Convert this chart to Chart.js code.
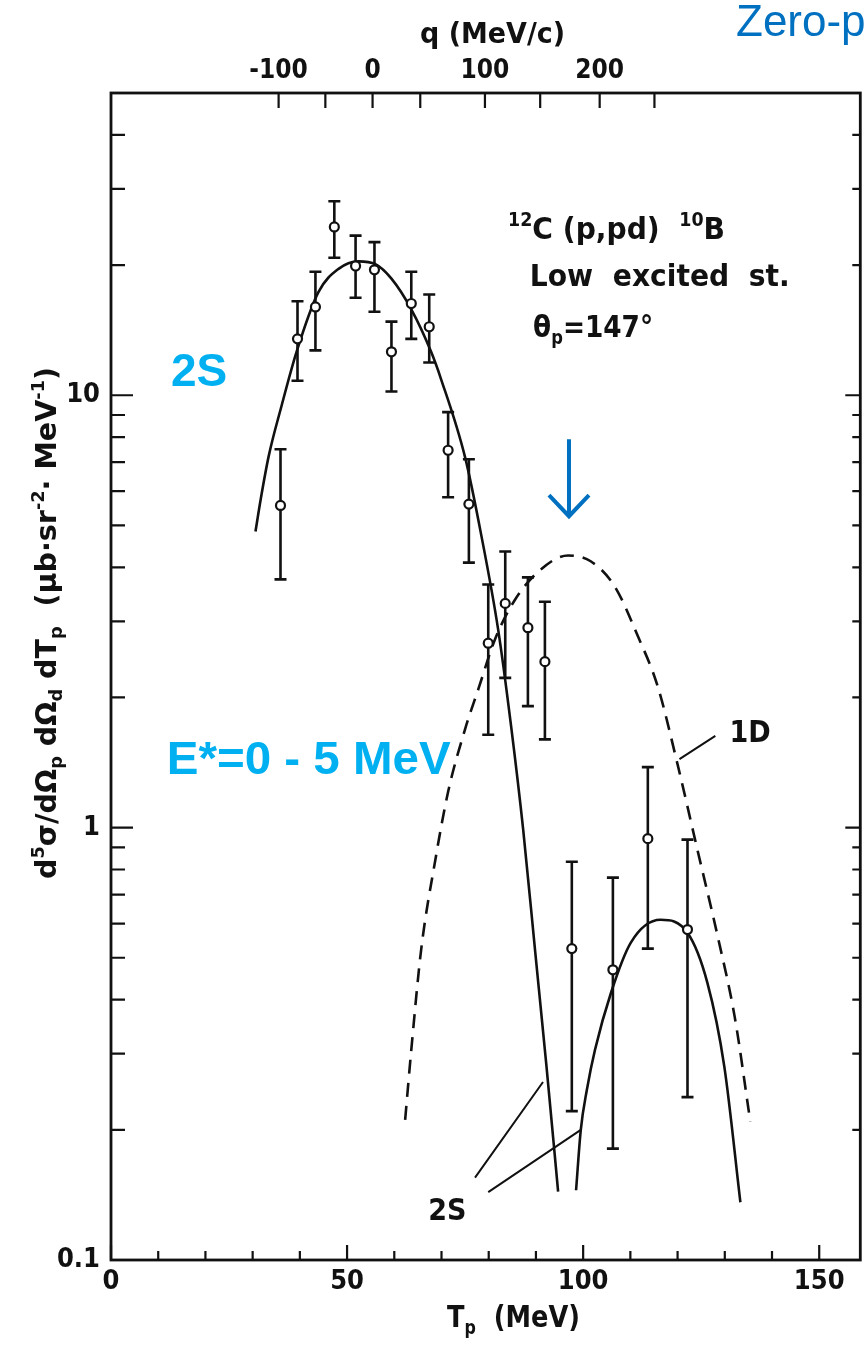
<!DOCTYPE html>
<html>
<head>
<meta charset="utf-8">
<title>12C(p,pd)10B</title>
<script src="https://cdn.jsdelivr.net/npm/chart.js@4.4.1/dist/chart.umd.min.js"></script>
<style>
  html, body { margin: 0; padding: 0; background: #fff; overflow: hidden; }
</style>
</head>
<body>
<canvas id="chart" width="867" height="1345"></canvas>
<script>
/* ===============================
   DATA
================================= */
const xTicks = [0, 50, 100, 150];
const xTickMarks = [0, 10, 20, 30, 40, 50, 60, 70, 80, 90, 100, 110, 120, 130, 140, 150];
const yTicks = [0.1, 1, 10];
const yTickLabels = ["0.1", "1", "10"];
const yTickMarks = [0.2, 0.3, 0.4, 0.5, 0.6, 0.7, 0.8, 0.9, 1, 2, 3, 4, 5, 6, 7, 8, 9, 10, 20, 30, 40];

// top axis: recoil momentum q (MeV/c), placed at the Tp where it applies
const qTickTp = [35.5, 45.4, 55.4, 65.5, 79.2, 90.9, 103.5, 115.1];
const qTickLabels = ["-100", "", "0", "", "100", "", "200", ""];

// measured points (Tp in MeV, cross section, error bar ends)
const dataTp  = [35.9, 39.5, 43.3, 47.3, 51.8, 55.8, 59.4, 63.6, 67.4, 71.4, 75.8, 79.9, 83.5, 88.3, 91.9, 97.6, 106.3, 113.7, 122.1];
const dataVal = [5.56, 13.5, 16.0, 24.5, 19.9, 19.5, 12.6, 16.3, 14.4, 7.46, 5.60, 2.67, 3.30, 2.90, 2.42, 0.525, 0.469, 0.943, 0.581];
const dataLo  = [3.75, 10.8, 12.7, 20.8, 16.8, 15.6, 10.2, 13.5, 11.9, 5.81, 4.10, 1.64, 2.22, 1.91, 1.60, 0.221, 0.181, 0.525, 0.238];
const dataHi  = [7.50, 16.5, 19.3, 28.1, 23.4, 22.6, 14.8, 19.3, 17.1, 9.14, 7.11, 3.65, 4.35, 3.79, 3.33, 0.834, 0.766, 1.38, 0.938];

// 2S calculation, low-Tp branch
const fit2sLowTp  = [30.6, 31.7, 33.4, 36.1, 39.3, 43.9, 48.2, 52.4, 56.0, 59.4, 63.6, 67.8, 69.9, 75.0, 78.4, 82.0, 84.7, 87.3, 89.8, 92.2, 94.7];
const fit2sLowVal = [4.84, 5.74, 7.23, 9.43, 12.6, 17.3, 19.6, 20.4, 20.1, 18.6, 15.8, 12.6, 10.9, 7.18, 4.76, 2.87, 1.73, 0.989, 0.522, 0.283, 0.144];

// 2S calculation, high-Tp branch
const fit2sHighTp  = [98.5, 99.5, 100.8, 102.5, 105.9, 110.1, 116.4, 122.1, 126.3, 129.9, 133.3];
const fit2sHighVal = [0.145, 0.200, 0.248, 0.306, 0.415, 0.542, 0.612, 0.571, 0.438, 0.280, 0.136];

// 1D calculation (dashed)
const fit1dTp  = [62.3, 63.6, 65.7, 68.7, 71.4, 75.0, 77.8, 81.3, 85.6, 91.1, 96.8, 101.6, 106.7, 111.6, 115.8, 120.0, 124.2, 128.5, 132.1, 135.4];
const fit1dVal = [0.211, 0.306, 0.523, 0.843, 1.21, 1.69, 2.09, 2.72, 3.37, 3.96, 4.26, 4.13, 3.61, 2.77, 2.12, 1.40, 0.889, 0.560, 0.365, 0.209];

/* ===============================
   STYLE
================================= */
const INK = "#111";
const FAMILY = "'Liberation Sans Narrow', 'DejaVu Sans Condensed', 'DejaVu Sans', sans-serif";
const ARIAL = "'Liberation Sans', Arial, sans-serif";
const LIGHT_BLUE = "#00B0F0";
const DARK_BLUE = "#0070C0";

/* ===============================
   HELPERS
================================= */
function pts(xs, ys) {
  return xs.map((x, i) => ({ x: x, y: ys[i] }));
}

// draw text made of normal / sup / sub pieces, optionally stretched to a width
function drawRich(ctx, parts, x, y, size, opt) {
  opt = opt || {};
  const weight = opt.weight || "bold";
  const family = opt.family || FAMILY;
  const segs = parts.map(([t, k]) => {
    const s = k ? size * 0.62 : size;
    ctx.font = `${weight} ${s}px ${family}`;
    return { t, k, s, w: ctx.measureText(t).width };
  });
  const total = segs.reduce((a, b) => a + b.w, 0);
  const sx = opt.width ? opt.width / total : 1;
  ctx.save();
  ctx.translate(x, y);
  ctx.scale(sx, 1);
  ctx.fillStyle = opt.color || INK;
  ctx.textBaseline = "alphabetic";
  ctx.textAlign = "left";
  let cx = opt.align === "center" ? -total / 2 : 0;
  for (const sg of segs) {
    ctx.font = `${weight} ${sg.s}px ${family}`;
    const dy = sg.k === "sup" ? -size * 0.42 : sg.k === "sub" ? size * 0.22 : 0;
    ctx.fillText(sg.t, cx, dy);
    cx += sg.w;
  }
  ctx.restore();
}

/* ===============================
   PLUGINS
================================= */
const errorBars = {
  id: "errorBars",
  beforeDatasetsDraw(chart) {
    const { ctx, scales: { x, y } } = chart;
    ctx.save();
    ctx.strokeStyle = INK;
    ctx.lineWidth = 2.6;
    dataTp.forEach((t, i) => {
      const px = x.getPixelForValue(t);
      const top = y.getPixelForValue(dataHi[i]);
      const bot = y.getPixelForValue(dataLo[i]);
      ctx.beginPath();
      ctx.moveTo(px, top); ctx.lineTo(px, bot);
      ctx.moveTo(px - 6, top); ctx.lineTo(px + 6, top);
      ctx.moveTo(px - 6, bot); ctx.lineTo(px + 6, bot);
      ctx.stroke();
    });
    ctx.restore();
  }
};

const frame = {
  id: "frame",
  afterDatasetsDraw(chart) {
    const { ctx, chartArea: a, scales: { x, y, xq } } = chart;
    ctx.save();
    ctx.strokeStyle = INK;
    ctx.lineWidth = 2.8;
    ctx.strokeRect(a.left, a.top, a.right - a.left, a.bottom - a.top);

    ctx.lineWidth = 2.2;
    ctx.beginPath();
    // bottom: inward ticks every 10 MeV
    xTickMarks.forEach(t => {
      const px = x.getPixelForValue(t);
      const len = xTicks.includes(t) ? 15 : 9;
      ctx.moveTo(px, a.bottom); ctx.lineTo(px, a.bottom - len);
    });
    // top: q ticks
    xq.ticks.forEach(tk => {
      const px = xq.getPixelForValue(tk.value);
      ctx.moveTo(px, a.top); ctx.lineTo(px, a.top + 15);
    });
    // left and right: log ticks
    yTickMarks.forEach(v => {
      const py = y.getPixelForValue(v);
      const major = yTicks.includes(v);
      ctx.moveTo(a.left, py); ctx.lineTo(a.left + (major ? 22 : 14), py);
      ctx.moveTo(a.right, py); ctx.lineTo(a.right - (major ? 15 : 8), py);
    });
    ctx.stroke();
    ctx.restore();
  }
};

const annotations = {
  id: "annotations",
  afterDraw(chart) {
    const { ctx, scales: { x, y } } = chart;
    const X = t => x.getPixelForValue(t);
    const Y = v => y.getPixelForValue(v);
    ctx.save();

    // axis titles
    drawRich(ctx, [["q", ""], [" (MeV/c)", ""]], 420, 43, 28, { width: 145 });
    drawRich(ctx, [["T", ""], ["p", "sub"], ["  (MeV)", ""]], 447, 1327, 30, { width: 133 });

    ctx.save();
    ctx.translate(56, 623);
    ctx.rotate(-Math.PI / 2);
    drawRich(ctx, [
      ["d", ""], ["5", "sup"], ["σ/dΩ", ""], ["p", "sub"], [" dΩ", ""], ["d", "sub"],
      [" dT", ""], ["p", "sub"], ["  (μb·sr", ""], ["-2", "sup"], ["· MeV", ""], ["-1", "sup"], [")", ""]
    ], 0, 0, 28, { width: 512, align: "center" });
    ctx.restore();

    // reaction label
    drawRich(ctx, [["12", "sup"], ["C (p,pd)  ", ""], ["10", "sup"], ["B", ""]], X(84.1), Y(23.0), 30, { width: 217 });
    drawRich(ctx, [["Low  excited  st.", ""]], X(88.7), Y(17.9), 30, { width: 260 });
    drawRich(ctx, [["θ", ""], ["p", "sub"], ["=147°", ""]], X(89.4), Y(13.6), 30, { width: 120 });

    // curve labels with leader lines
    ctx.strokeStyle = INK;
    ctx.lineWidth = 2;
    ctx.beginPath();
    ctx.moveTo(X(120.4), Y(1.44)); ctx.lineTo(X(128.0), Y(1.63));
    ctx.moveTo(X(77.1), Y(0.155)); ctx.lineTo(X(91.5), Y(0.258));
    ctx.moveTo(X(79.9), Y(0.1435)); ctx.lineTo(X(99.5), Y(0.200));
    ctx.stroke();
    drawRich(ctx, [["1D", ""]], X(131.0), Y(1.58), 30);
    drawRich(ctx, [["2S", ""]], X(67.2), Y(0.124), 30);

    // blue overlay notes
    drawRich(ctx, [["2S", ""]], X(12.7), Y(10.5), 46, { family: ARIAL, color: LIGHT_BLUE });
    drawRich(ctx, [["E*=0 - 5 MeV", ""]], X(11.8), Y(1.33), 46, { family: ARIAL, color: LIGHT_BLUE, width: 284 });
    drawRich(ctx, [["Zero-p", ""]], 736, 36, 44, { family: ARIAL, weight: "normal", color: DARK_BLUE });

    // arrow pointing at the 1D maximum
    const ax = X(97.0), atop = Y(7.91), atip = Y(5.25);
    ctx.strokeStyle = DARK_BLUE;
    ctx.lineWidth = 4;
    ctx.beginPath();
    ctx.moveTo(ax, atop); ctx.lineTo(ax, atip);
    ctx.moveTo(ax - 20, atip - 21); ctx.lineTo(ax, atip); ctx.lineTo(ax + 20, atip - 21);
    ctx.stroke();

    ctx.restore();
  }
};

/* ===============================
   CHART
================================= */
const tickFont = { family: FAMILY, size: 27, weight: "bold" };

new Chart(document.getElementById("chart"), {
  type: "line",
  data: {
    datasets: [
      {
        label: "data",
        data: pts(dataTp, dataVal),
        showLine: false,
        pointRadius: 4.5,
        pointBorderWidth: 2.2,
        pointBorderColor: INK,
        pointBackgroundColor: "#fff"
      },
      {
        label: "2S",
        data: pts(fit2sLowTp, fit2sLowVal),
        borderColor: INK,
        borderWidth: 2.6,
        pointRadius: 0,
        cubicInterpolationMode: "monotone"
      },
      {
        label: "2S (high)",
        data: pts(fit2sHighTp, fit2sHighVal),
        borderColor: INK,
        borderWidth: 2.6,
        pointRadius: 0,
        cubicInterpolationMode: "monotone"
      },
      {
        label: "1D",
        data: pts(fit1dTp, fit1dVal),
        borderColor: INK,
        borderWidth: 2.6,
        borderDash: [14, 9],
        pointRadius: 0,
        cubicInterpolationMode: "monotone"
      }
    ]
  },
  options: {
    responsive: false,
    animation: false,
    events: [],
    layout: { padding: { left: 0, right: 4, top: 0, bottom: 0 } },
    plugins: {
      legend: { display: false },
      tooltip: { enabled: false }
    },
    scales: {
      x: {
        type: "linear",
        position: "bottom",
        min: 0,
        max: 158.7,
        grid: { display: false, drawTicks: false },
        border: { display: false },
        afterBuildTicks: s => { s.ticks = xTicks.map(v => ({ value: v })); },
        afterFit: s => { s.height = 85; },
        ticks: {
          autoSkip: false, maxRotation: 0, padding: 6,
          color: INK, font: tickFont,
          callback: v => String(v)
        }
      },
      xq: {
        type: "linear",
        axis: "x",
        position: "top",
        min: 0,
        max: 158.7,
        grid: { display: false, drawTicks: false },
        border: { display: false },
        afterBuildTicks: s => { s.ticks = qTickTp.map(v => ({ value: v })); },
        afterFit: s => { s.height = 93; },
        ticks: {
          autoSkip: false, maxRotation: 0, padding: 6,
          color: INK, font: { family: FAMILY, size: 26, weight: "bold" },
          callback: (v, i) => qTickLabels[i]
        }
      },
      y: {
        type: "logarithmic",
        min: 0.1,
        max: 50,
        grid: { display: false, drawTicks: false },
        border: { display: false },
        afterBuildTicks: s => { s.ticks = yTicks.map(v => ({ value: v })); },
        afterFit: s => { s.width = 111; },
        ticks: {
          autoSkip: false, padding: 11,
          color: INK, font: tickFont,
          callback: (v, i) => yTickLabels[i]
        }
      }
    }
  },
  plugins: [errorBars, frame, annotations]
});
</script>
</body>
</html>
